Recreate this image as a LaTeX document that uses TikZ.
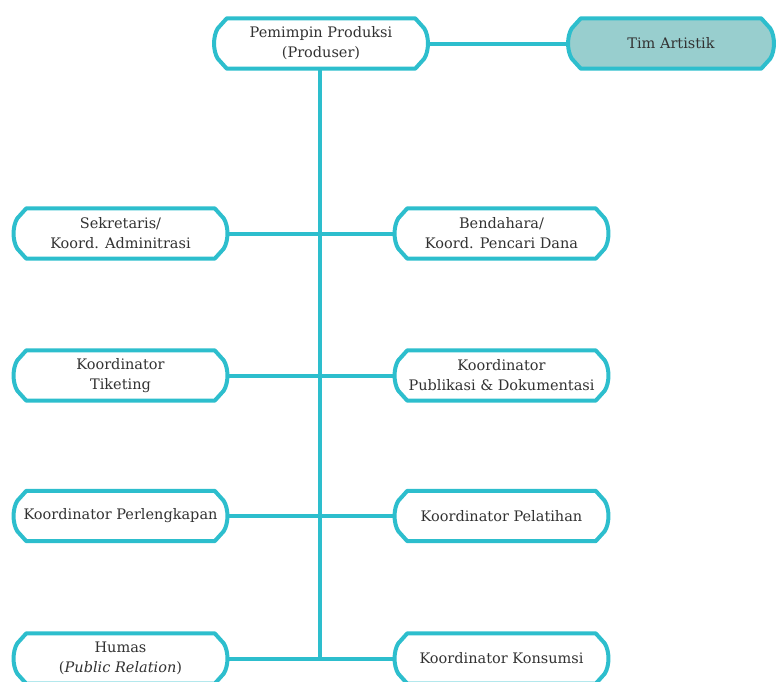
\documentclass[tikz,border=0pt]{standalone}
\usepackage{fontspec}
\setmainfont{DejaVu Serif}
\definecolor{lineC}{RGB}{45,190,205}
\definecolor{fillC}{RGB}{152,206,206}
\definecolor{txtC}{RGB}{50,50,50}
\begin{document}
\begin{tikzpicture}[x=1pt,y=-1pt,
  lbl/.style={inner sep=0pt, align=center, text=txtC, font=\fontsize{14.5}{20}\selectfont},
  wbox/.style={lbl, minimum width=214pt, minimum height=50pt},
  tbox/.style={lbl, minimum width=206pt, minimum height=50pt},
  conn/.style={draw=lineC, line width=4pt},
  outline/.style={draw=lineC, line width=4pt, line join=round}]
\useasboundingbox (0,0) rectangle (778,681);
\clip (0,0) rectangle (778,681);
% nodes
\node[wbox] (prod) at (321,43.5) {Pemimpin Produksi\\(Produser)};
\node[tbox] (tim) at (671,43.5) {};
\node[wbox] (sek) at (120.5,233.5) {Sekretaris/\\Koord. Adminitrasi};
\node[wbox] (ben) at (501.5,233.5) {Bendahara/\\Koord. Pencari Dana};
\node[wbox] (tik) at (120.5,375.5) {Koordinator\\Tiketing};
\node[wbox] (pub) at (501.5,375.5) {Koordinator\\Publikasi \& Dokumentasi};
\node[wbox] (per) at (120.5,516) {Koordinator Perlengkapan};
\node[wbox] (pel) at (501.5,516) {Koordinator Pelatihan};
\node[wbox] (hum) at (120.5,658.5) {Humas\\(\textit{Public Relation})};
\node[wbox] (kon) at (501.5,658.5) {Koordinator Konsumsi};
\coordinate (jt) at (320,70);
\coordinate (j4) at (320,658.5);
% connectors
\draw[conn] (prod.south -| jt) -- (j4);
\draw[conn] (prod.east) -- (tim.west);
\draw[conn] (sek.east) -- (ben.west);
\draw[conn] (tik.east) -- (pub.west);
\draw[conn] (per.east) -- (pel.west);
\draw[conn, line join=miter] (hum.east) -- (j4) -- (kon.west);
% outlines
\foreach \n/\f in {prod/white,tim/fillC,sek/white,ben/white,tik/white,pub/white,per/white,pel/white,hum/white,kon/white}{
  \path[outline, fill=\f]
    ([xshift=13pt]\n.north west) -- ([xshift=-13pt]\n.north east)
    -- ([xshift=-4pt,yshift=-10pt]\n.north east)
    .. controls ([xshift=1pt,yshift=-18pt]\n.north east) and ([xshift=1pt,yshift=18pt]\n.south east) ..
    ([xshift=-4pt,yshift=10pt]\n.south east)
    -- ([xshift=-13pt]\n.south east) -- ([xshift=13pt]\n.south west)
    -- ([xshift=4pt,yshift=10pt]\n.south west)
    .. controls ([xshift=-1pt,yshift=18pt]\n.south west) and ([xshift=-1pt,yshift=-18pt]\n.north west) ..
    ([xshift=4pt,yshift=-10pt]\n.north west) -- cycle;
}
% texts on top
\node[lbl] at (prod) {Pemimpin Produksi\\(Produser)};
\node[lbl] at (tim) {Tim Artistik};
\node[lbl] at (sek) {Sekretaris/\\Koord. Adminitrasi};
\node[lbl] at (ben) {Bendahara/\\Koord. Pencari Dana};
\node[lbl] at (tik) {Koordinator\\Tiketing};
\node[lbl] at (pub) {Koordinator\\Publikasi \& Dokumentasi};
\node[lbl] at (per) {Koordinator Perlengkapan};
\node[lbl] at (pel) {Koordinator Pelatihan};
\node[lbl] at (hum) {Humas\\(\textit{Public Relation})};
\node[lbl] at (kon) {Koordinator Konsumsi};
\end{tikzpicture}
\end{document}
